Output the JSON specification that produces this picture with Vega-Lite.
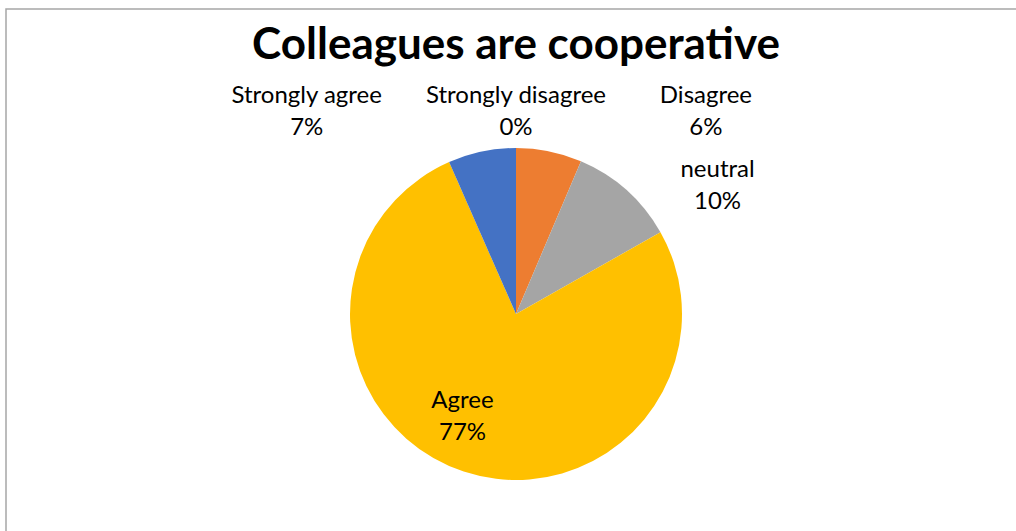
{
  "$schema": "https://vega.github.io/schema/vega-lite/v6.json",
  "autosize": "none",
  "padding": {"left": 6, "top": 9, "right": 0, "bottom": 0},
  "width": 1020,
  "height": 610,
  "background": "white",
  "view": {"stroke": "#a6a6a6", "strokeWidth": 1.5},
  "title": {
    "text": "Colleagues are cooperative",
    "font": "Lato",
    "fontWeight": "bold",
    "fontSize": 44,
    "color": "#000000",
    "anchor": "middle",
    "baseline": "alphabetic",
    "offset": -53,
    "dy": 41
  },
  "data": {
    "values": [
      {"response": "Strongly disagree", "share": 0.0, "rank": 1},
      {"response": "Disagree", "share": 0.064, "rank": 2},
      {"response": "neutral", "share": 0.104, "rank": 3},
      {"response": "Agree", "share": 0.766, "rank": 4},
      {"response": "Strongly agree", "share": 0.066, "rank": 5}
    ]
  },
  "transform": [
    {"stack": "share", "groupby": [], "sort": [{"field": "rank", "order": "ascending"}], "as": ["s0", "s1"]},
    {"calculate": "(datum.s0 + datum.s1) / 2", "as": "mid"},
    {"calculate": "[datum.response, format(datum.share, '.0%')]", "as": "label"}
  ],
  "layer": [
    {
      "mark": {"type": "arc", "outerRadius": 166},
      "encoding": {
        "theta": {"field": "s0", "type": "quantitative", "scale": {"domain": [0, 1]}, "stack": null},
        "theta2": {"field": "s1"},
        "color": {
          "field": "response",
          "type": "nominal",
          "scale": {
            "domain": ["Strongly disagree", "Disagree", "neutral", "Agree", "Strongly agree"],
            "range": ["#5B9BD5", "#ED7D31", "#A5A5A5", "#FFC000", "#4472C4"]
          },
          "legend": null
        }
      }
    },
    {
      "transform": [{"filter": "datum.response === 'Strongly disagree'"}],
      "mark": {"type": "text", "radius": 211, "dx": 0, "dy": 0, "align": "center", "baseline": "alphabetic", "lineHeight": 32, "font": "Lato", "fontSize": 24, "color": "#000000"},
      "encoding": {"theta": {"field": "mid", "type": "quantitative", "stack": null}, "text": {"field": "label"}}
    },
    {
      "transform": [{"filter": "datum.response === 'Disagree'"}],
      "mark": {"type": "text", "radius": 215, "dx": 147, "dy": 0, "align": "center", "baseline": "alphabetic", "lineHeight": 32, "font": "Lato", "fontSize": 24, "color": "#000000"},
      "encoding": {"theta": {"field": "mid", "type": "quantitative", "stack": null}, "text": {"field": "label"}}
    },
    {
      "transform": [{"filter": "datum.response === 'neutral'"}],
      "mark": {"type": "text", "radius": 205, "dx": 65, "dy": 16, "align": "center", "baseline": "alphabetic", "lineHeight": 32, "font": "Lato", "fontSize": 24, "color": "#000000"},
      "encoding": {"theta": {"field": "mid", "type": "quantitative", "stack": null}, "text": {"field": "label"}}
    },
    {
      "transform": [{"filter": "datum.response === 'Agree'"}],
      "mark": {"type": "text", "radius": 100, "dx": -22, "dy": -1, "align": "center", "baseline": "alphabetic", "lineHeight": 32, "font": "Lato", "fontSize": 24, "color": "#000000"},
      "encoding": {"theta": {"field": "mid", "type": "quantitative", "stack": null}, "text": {"field": "label"}}
    },
    {
      "transform": [{"filter": "datum.response === 'Strongly agree'"}],
      "mark": {"type": "text", "radius": 215, "dx": -165, "dy": -1, "align": "center", "baseline": "alphabetic", "lineHeight": 32, "font": "Lato", "fontSize": 24, "color": "#000000"},
      "encoding": {"theta": {"field": "mid", "type": "quantitative", "stack": null}, "text": {"field": "label"}}
    }
  ]
}
